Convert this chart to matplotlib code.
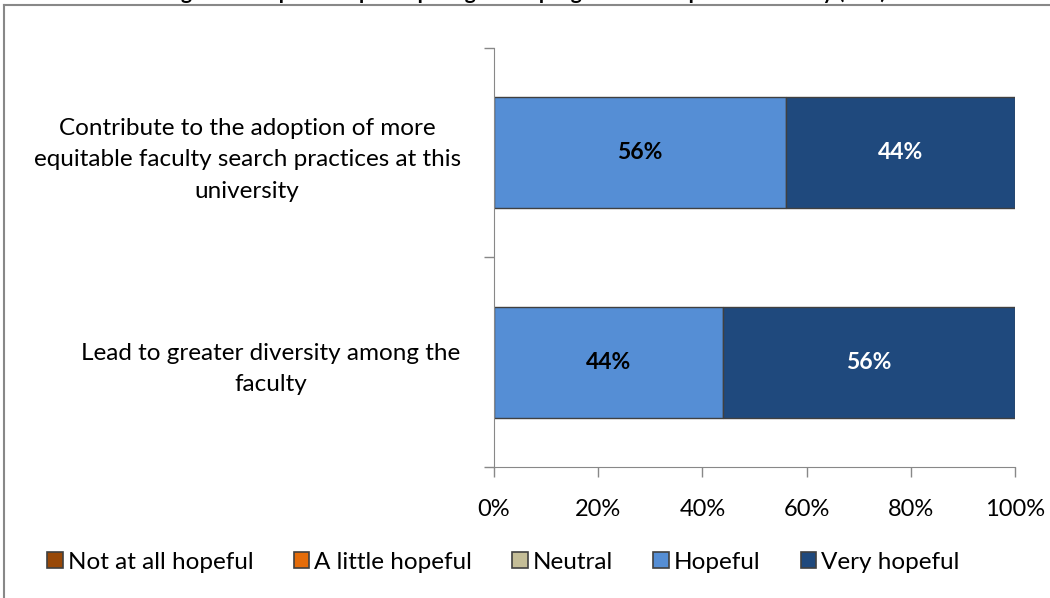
import matplotlib.pyplot as plt
from matplotlib.patches import Patch
from matplotlib.lines import Line2D

plt.rcParams['font.family'] = ['Lato', 'DejaVu Sans']

categories = [
    "Contribute to the adoption of more\nequitable faculty search practices at this\nuniversity",
    "Lead to greater diversity among the\nfaculty",
]
responses = ["Not at all hopeful", "A little hopeful", "Neutral", "Hopeful", "Very hopeful"]
values = {
    "Not at all hopeful": [0, 0],
    "A little hopeful": [0, 0],
    "Neutral": [0, 0],
    "Hopeful": [56, 44],
    "Very hopeful": [44, 56],
}
colors = ["#984807", "#E46C0A", "#C4BD97", "#558ED5", "#1F497D"]
label_colors = {"Hopeful": "black", "Very hopeful": "white"}
xticks = [0, 20, 40, 60, 80, 100]

fig = plt.figure(figsize=(10.5, 5.98), dpi=100)
ax = fig.add_axes([0.4705, 0.2191, 0.4962, 0.7007])

ypos = list(range(len(categories)))
left = [0] * len(categories)
for name, col in zip(responses, colors):
    vals = values[name]
    ax.barh(ypos, vals, left=left, height=0.53, color=col,
            edgecolor="#404040", linewidth=1.0)
    if name in label_colors:
        for y, l, v in zip(ypos, left, vals):
            if v > 0:
                ax.text(l + v / 2, y, f"{v}%", ha="center", va="center",
                        fontsize=16.5, fontweight="bold", color=label_colors[name])
    left = [a + b for a, b in zip(left, vals)]

ax.set_xlim(0, 100)
ax.set_ylim(1.5, -0.5)
ax.set_xticks(xticks)
ax.set_xticklabels([f"{t}%" for t in xticks], fontsize=17)
ax.set_yticks([-0.5, 0.5, 1.5])
ax.set_yticklabels([])
ax.set_yticks(ypos, minor=True)
ax.set_yticklabels(categories, minor=True, fontsize=17.5, multialignment="center",
                   linespacing=1.6)
ax.tick_params(axis="y", which="minor", length=0, pad=24)
ax.tick_params(axis="y", which="major", length=7, color="#888888", width=1)
ax.tick_params(axis="x", length=7, color="#888888", width=1, pad=16)

for side in ["top", "right"]:
    ax.spines[side].set_visible(False)
for side in ["left", "bottom"]:
    ax.spines[side].set_color("#888888")

handles = [Patch(facecolor=c, edgecolor="#404040", linewidth=1.2) for c in colors]
fig.legend(handles, responses, loc="center left", bbox_to_anchor=(0.045, 0.06),
           ncol=5, frameon=False, fontsize=17.5, handlelength=0.65, handleheight=0.65,
           handletextpad=0.2, columnspacing=1.65, borderaxespad=0, borderpad=0)

# chart area border
fig.add_artist(Line2D([0.004, 1.0], [1 - 5 / 598, 1 - 5 / 598], transform=fig.transFigure,
                      color="#888888", linewidth=1.5))
fig.add_artist(Line2D([0.004, 0.004], [0, 1 - 5 / 598], transform=fig.transFigure,
                      color="#888888", linewidth=1.5))

fig.text(0.5, 1 + 1 / 598, "Figure 7: Hopes that participating in the program will help the university (n=9)",
         ha="center", va="baseline", fontsize=15, fontweight="bold")

fig.savefig("out.png", dpi=100)
